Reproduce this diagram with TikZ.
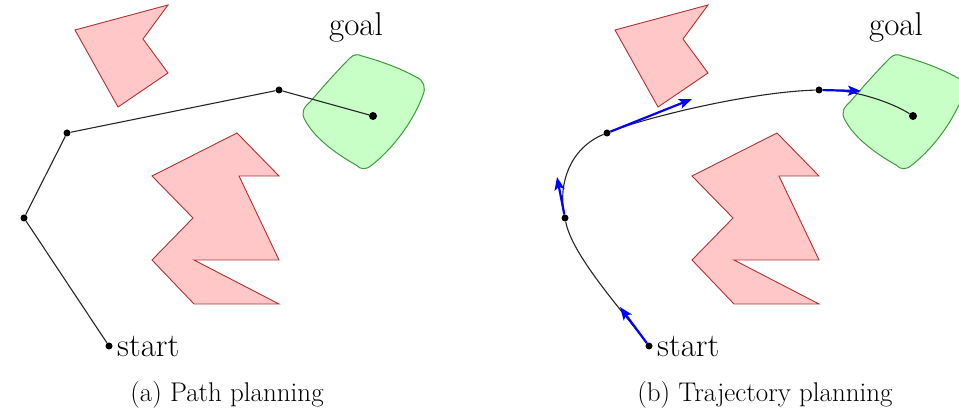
\documentclass[tikz,border=0pt]{standalone}
\usepackage{fontspec}
\usepackage{tikz}
\usetikzlibrary{arrows.meta,positioning}
\definecolor{obstacleedge}{RGB}{175,50,50}
\definecolor{goaledge}{RGB}{60,155,60}

\begin{document}
\begin{tikzpicture}[
    x=1pt, y=-1pt,
    obstacle/.style={draw=obstacleedge, fill=red!22, line width=0.9pt},
    goalarea/.style={draw=goaledge, fill=green!22, line width=1pt},
    waypoint/.style={circle, fill=black, inner sep=0pt, minimum size=7pt},
    route/.style={black!85, line width=1.1pt},
    velocity/.style={-{Stealth[length=13pt,width=10pt,inset=3pt]}, blue, line width=2.2pt},
    marktext/.style={font=\fontsize{33}{33}\selectfont},
    caption/.style={font=\fontsize{27}{27}\selectfont},
  ]
    \useasboundingbox (0,0) rectangle (959,419);

    % (a) Path planning
    \begin{scope}
      % Obstacles and goal region
      \draw[obstacle] (75,30) -- (168,5) -- (143,39) -- (168,73) -- (118,107) -- cycle;
      \draw[obstacle] (152,176) -- (237,133) -- (279,176) -- (239,176) -- (279,260) -- (194,260)
        -- (279,304) -- (194,304) -- (152,260) -- (193,218) -- cycle;
      \draw[goalarea] (362,56) .. controls (380,61) and (400,68) .. (416,77)
        .. controls (424,80) and (426,88) .. (423,95)
        .. controls (415,117) and (397,145) .. (372,165)
        .. controls (366,170) and (361,170) .. (356,165)
        .. controls (333,152) and (314,137) .. (305,120)
        .. controls (301,113) and (303,108) .. (310,102)
        .. controls (322,88) and (336,72) .. (350,58)
        .. controls (354,54) and (358,54) .. cycle;

      % Nodes
      \node[waypoint] (ps) at (109,346) {};
      \node[waypoint] (p1) at (24,218) {};
      \node[waypoint] (p2) at (67,133) {};
      \node[waypoint] (p3) at (279,90) {};
      \node[waypoint, minimum size=8pt] (pg) at (373,116) {};

      % Path
      \draw[route] (ps) -- (p1) -- (p2) -- (p3) -- (pg);

      % Labels
      \node[marktext, right=1pt of ps] (pstart) {start};
      \node[marktext] (pgoal) at (356,27) {goal};
      \node[caption] (capa) at (227,395) {(a) Path planning};
    \end{scope}

    % (b) Trajectory planning
    \begin{scope}[xshift=540pt]
      % Obstacles and goal region
      \draw[obstacle] (75,30) -- (168,5) -- (143,39) -- (168,73) -- (118,107) -- cycle;
      \draw[obstacle] (152,176) -- (237,133) -- (279,176) -- (239,176) -- (279,260) -- (194,260)
        -- (279,304) -- (194,304) -- (152,260) -- (193,218) -- cycle;
      \draw[goalarea] (362,56) .. controls (380,61) and (400,68) .. (416,77)
        .. controls (424,80) and (426,88) .. (423,95)
        .. controls (415,117) and (397,145) .. (372,165)
        .. controls (366,170) and (361,170) .. (356,165)
        .. controls (333,152) and (314,137) .. (305,120)
        .. controls (301,113) and (303,108) .. (310,102)
        .. controls (322,88) and (336,72) .. (350,58)
        .. controls (354,54) and (358,54) .. cycle;

      % Nodes
      \node[waypoint] (ts) at (109,346) {};
      \node[waypoint] (t1) at (25,218) {};
      \node[waypoint] (t2) at (67,133) {};
      \node[waypoint] (t3) at (279,90) {};
      \node[waypoint, minimum size=8pt] (tg) at (373,116) {};
      \coordinate (v0) at (80,307);
      \coordinate (v1) at (17,177);
      \coordinate (v2) at (152,99);
      \coordinate (v3) at (321,91);

      % Trajectory
      \draw[route] (ts) .. controls (80,308) and (32,255) .. (t1)
        .. controls (18,184) and (30,148) .. (t2)
        .. controls (104,118) and (209,92) .. (t3)
        .. controls (314,89) and (353,103) .. (tg);

      % Velocities
      \draw[velocity] (ts) -- (v0);
      \draw[velocity] (t1) -- (v1);
      \draw[velocity] (t2) -- (v2);
      \draw[velocity] (t3) -- (v3);

      % Labels
      \node[marktext, right=1pt of ts] (tstart) {start};
      \node[marktext] (tgoal) at (356,27) {goal};
      \node[caption] (capb) at (225,395) {(b) Trajectory planning};
    \end{scope}
  \end{tikzpicture}
\end{document}
